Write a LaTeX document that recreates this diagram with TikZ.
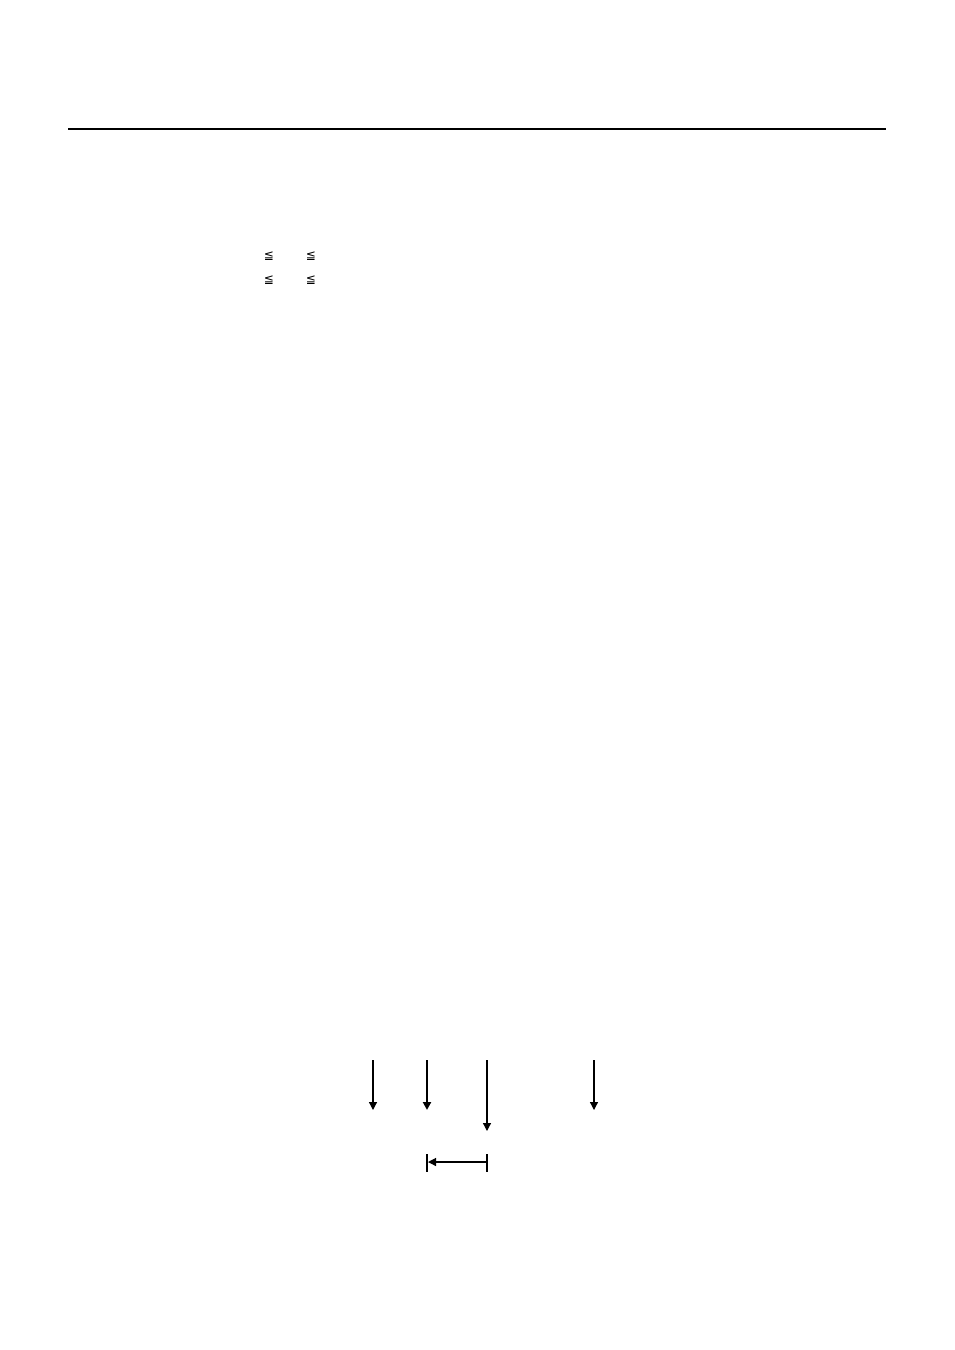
\documentclass[tikz,border=0pt]{standalone}
\usepackage{fontspec}
\newfontfamily\symfont{DejaVu Sans}
\usetikzlibrary{arrows.meta}
\begin{document}
\begin{tikzpicture}[x=0.75pt,y=-0.75pt,
  sym/.style={font=\symfont\fontsize{9}{9}\selectfont,inner sep=0pt},
  darrow/.style={line width=0.9pt,-{Triangle[width=6pt,length=6pt]}},
  thickarrow/.style={line width=1.5pt,-{Triangle[width=6pt,length=6pt]}},
  bar/.style={line width=0.8pt}]
\useasboundingbox (0,0) rectangle (954,1350);
\coordinate (hl) at (68,129);
\coordinate (hr) at (886,129);
\draw[line width=0.8pt] (hl) -- (hr);
\node[sym] (s1) at (269,256) {≦};
\node[sym] (s2) at (311,256) {≦};
\node[sym] (s3) at (269,280) {≦};
\node[sym] (s4) at (311,280) {≦};
% vertical arrows
\coordinate (a1t) at (373,1060); \coordinate (a1b) at (373,1110);
\coordinate (a2t) at (427,1060); \coordinate (a2b) at (427,1110);
\coordinate (a3t) at (487,1060); \coordinate (a3b) at (487,1131);
\coordinate (a4t) at (594,1060); \coordinate (a4b) at (594,1110);
\draw[darrow] (a1t) -- (a1b);
\draw[thickarrow] (a2t) -- (a2b);
\draw[darrow] (a3t) -- (a3b);
\draw[darrow] (a4t) -- (a4b);
% dimension
\coordinate (b1t) at (427,1154); \coordinate (b1b) at (427,1172);
\coordinate (b2t) at (487,1154); \coordinate (b2b) at (487,1172);
\coordinate (dR) at (487,1162); \coordinate (dL) at (428,1162);
\draw[line width=1.8pt] (b1t) -- (b1b);
\draw[bar] (b2t) -- (b2b);
\draw[darrow] (dR) -- (dL);
\end{tikzpicture}
\end{document}
